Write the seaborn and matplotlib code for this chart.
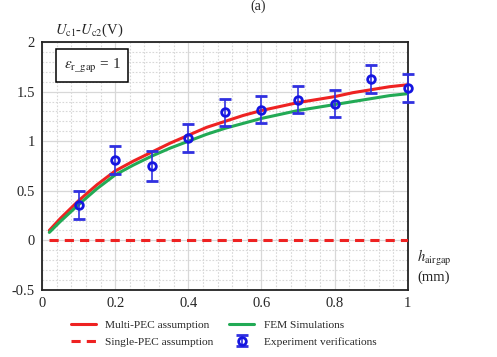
import numpy as np
import pandas as pd
import seaborn as sns
import matplotlib.pyplot as plt
from matplotlib.ticker import MultipleLocator

# curves
h_curve = [0.02, 0.05, 0.1, 0.15, 0.2, 0.25, 0.3, 0.35, 0.4, 0.45, 0.5,
           0.55, 0.6, 0.65, 0.7, 0.75, 0.8, 0.85, 0.9, 0.95, 1.0]
multi_pec = [0.10, 0.22, 0.40, 0.56, 0.70, 0.80, 0.89, 0.98, 1.06, 1.14, 1.20,
             1.26, 1.31, 1.35, 1.39, 1.42, 1.45, 1.49, 1.52, 1.55, 1.57]
fem_sim = [0.08, 0.19, 0.36, 0.52, 0.66, 0.76, 0.85, 0.93, 1.00, 1.07, 1.13,
           1.18, 1.23, 1.27, 1.31, 1.34, 1.37, 1.40, 1.43, 1.46, 1.48]
single_pec = [0.0] * len(h_curve)

# experiment points
h_exp = [0.1, 0.2, 0.3, 0.4, 0.5, 0.6, 0.7, 0.8, 0.9, 1.0]
u_exp = [0.36, 0.81, 0.75, 1.03, 1.29, 1.32, 1.42, 1.38, 1.63, 1.54]
u_err = [0.14, 0.14, 0.15, 0.14, 0.14, 0.14, 0.14, 0.14, 0.14, 0.14]

sns.set_style("white")
plt.rcParams["font.family"] = ["Liberation Serif", "DejaVu Serif"]
plt.rcParams["mathtext.fontset"] = "stix"

curves = pd.DataFrame({"h": h_curve, "multi": multi_pec, "fem": fem_sim,
                       "single": single_pec})

fig = plt.figure(figsize=(4.97, 3.57), dpi=100)
ax = fig.add_axes([0.0845, 0.188, 0.736, 0.694])

sns.lineplot(data=curves, x="h", y="multi", ax=ax, color="#ee2222", lw=2.2,
             label="Multi-PEC assumption", zorder=3)
sns.lineplot(data=curves, x="h", y="single", ax=ax, color="#ee2222", lw=2.2,
             ls=(0, (3, 2)), label="Single-PEC assumption", zorder=3)
sns.lineplot(data=curves, x="h", y="fem", ax=ax, color="#22aa55", lw=2.2,
             label="FEM Simulations", zorder=3)
ax.errorbar(h_exp, u_exp, yerr=u_err, fmt="o", mfc="none", mec="#1515e0",
            mew=2, ms=5.5, ecolor="#3030e0", elinewidth=1.2, capsize=4.5,
            capthick=1.2, label="Experiment verifications", zorder=4,
            clip_on=False)

ax.set_xlim(0, 1)
ax.set_ylim(-0.5, 2)
ax.set_xticks([0, 0.2, 0.4, 0.6, 0.8, 1])
ax.set_xticklabels(["0", "0.2", "0.4", "0.6", "0.8", "1"])
ax.set_yticks([-0.5, 0, 0.5, 1, 1.5, 2])
ax.set_yticklabels(["-0.5", "0", "0.5", "1", "1.5", "2"])
ax.xaxis.set_minor_locator(MultipleLocator(0.04))
ax.yaxis.set_minor_locator(MultipleLocator(0.1))
ax.grid(which="major", color="#d8d8d8", lw=0.9, ls="-")
ax.grid(which="minor", color="#d8d8d8", lw=0.8, ls=(0, (1.5, 1.5)))
ax.set_axisbelow(True)
ax.tick_params(which="both", length=0, labelsize=10.5, pad=5)
ax.set_xlabel("")
ax.set_ylabel("")
for s in ax.spines.values():
    s.set_color("#222222")
    s.set_linewidth(1.3)

ax.text(0.06, 0.905, r"$\varepsilon_{\rm r\_gap}$ = 1", transform=ax.transAxes,
        fontsize=11, va="center", ha="left",
        bbox=dict(boxstyle="square,pad=0.5", fc="white", ec="black", lw=1.1))

fig.text(0.11, 0.915, r"$U_{\rm c1}$-$U_{\rm c2}$(V)", fontsize=10.5, va="center")
fig.text(0.84, 0.255, r"$h_{\rm airgap}$" + "\n(mm)", fontsize=10.5, va="center",
         linespacing=1.3)
fig.text(0.52, 1.0, "(a)", fontsize=10, ha="center", va="top")

handles, labels = ax.get_legend_handles_labels()
ax.get_legend().remove()
fig.legend(handles, labels,
           loc="lower center", bbox_to_anchor=(0.45, 0.0), ncol=2, frameon=False,
           fontsize=8.2, handlelength=2.2, columnspacing=1.4, labelspacing=0.6)

fig.savefig("out.png", dpi=100)
